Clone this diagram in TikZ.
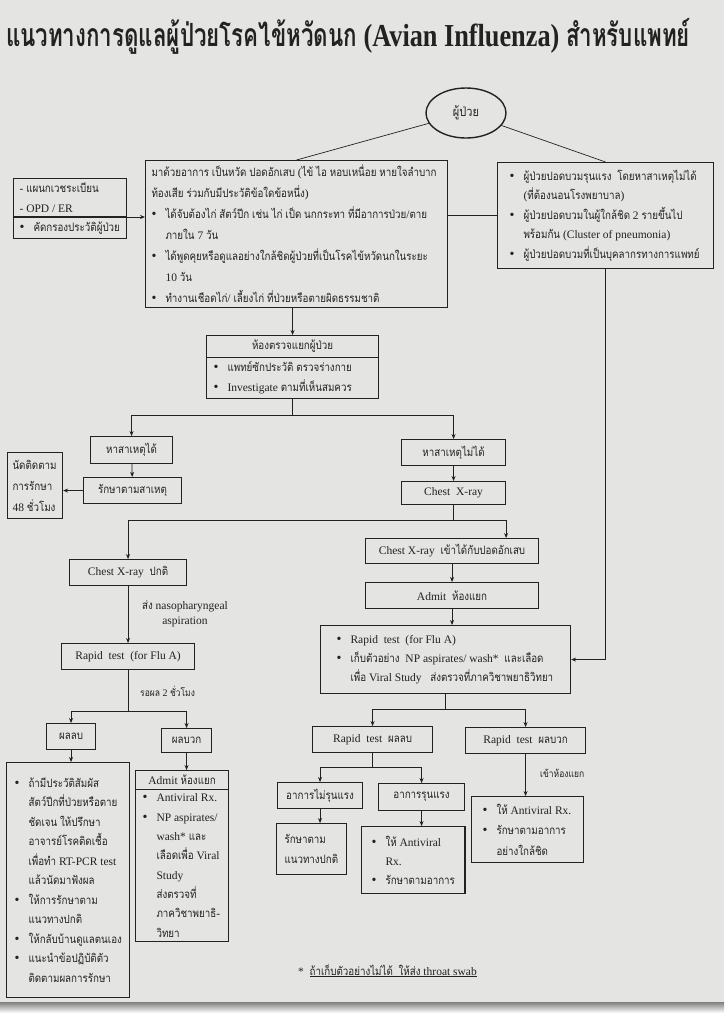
\documentclass[tikz,border=0pt]{standalone}
\usepackage{fontspec}
\usepackage{graphicx}
\usepackage{xcolor}
\setmainfont{Liberation Serif}
\newfontfamily\thaifont[Script=Thai,FakeStretch=0.85]{Loma}
\usetikzlibrary{calc, shapes.geometric, shapes.multipart, arrows.meta}

% Thai letters switch to the Thai font by themselves
\XeTeXinterchartokenstate=1
\newXeTeXintercharclass\thaiclass
\makeatletter
\count@="0E00
\loop
  \XeTeXcharclass\count@=\thaiclass
  \ifnum\count@<"0E7F
  \advance\count@\@ne
\repeat
\makeatother
\XeTeXinterchartoks 0 \thaiclass = {\thaifont}
\XeTeXinterchartoks 4095 \thaiclass = {\thaifont}
\XeTeXinterchartoks \thaiclass 0 = {\rmfamily}
\XeTeXinterchartoks \thaiclass 4095 = {\rmfamily}

\definecolor{ink}{RGB}{34,34,34}
\definecolor{paper}{RGB}{228,228,226}
\definecolor{shade}{RGB}{196,196,194}

\newcommand\bodyfont{\fontsize{11.5}{19.5}\selectfont}
\newcommand\bl{\makebox[14pt][l]{{\fontsize{14}{14}\selectfont\textbullet}}}
\newcommand\ib{\makebox[14pt]{}}
\newcommand\firstline[2]{\makebox[#1][l]{#2}}

\tikzset{
  box/.style={draw=ink, line width=1.1pt, text=ink, font=\bodyfont, inner ysep=3pt},
  cbox/.style={box, align=center, anchor=north west, inner xsep=2pt},
  lbox/.style={box, align=left, anchor=north west},
  sbox/.style={box, align=left, anchor=north west, rectangle split,
    rectangle split parts=2, inner ysep=4pt},
  lbl/.style={text=ink, font=\bodyfont, inner sep=0pt},
  link/.style={draw=ink, line width=0.8pt},
}

\begin{document}
\begin{tikzpicture}[x=1pt, y=-1pt, >={Stealth[length=5pt,width=4pt]}]

    % =================================================================
    % 1. NEN GIAY VA TIEU DE
    % =================================================================
    \useasboundingbox (0,0) rectangle (724,1013);
    \fill[paper] (0,0) rectangle (724,1013);
    \fill[shade] (0,1002) rectangle (724,1013);

    \node[anchor=base, inner sep=0pt, text=ink] (title) at (348,46)
        {\resizebox{684pt}{\height}{\fontsize{32}{36}\selectfont\bfseries แนวทางการดูแลผู้ป่วยโรคไข้หวัดนก (Avian Influenza) สำหรับแพทย์}};

    % =================================================================
    % 2. PHAN TREN: BENH NHAN VA TIEU CHI
    % =================================================================
    \node[draw=ink, ellipse, line width=1.4pt, minimum width=80pt, minimum height=50pt,
          text=ink, font=\fontsize{13}{15}\selectfont] (pat) at (466,113) {ผู้ป่วย};

    \node[sbox, rectangle split part align={left,left}, minimum width=113pt, inner xsep=6pt] (lb) at (13,178)
        {- แผนกเวชระเบียน\\- OPD / ER \nodepart{two}\bl คัดกรองประวัติผู้ป่วย};

    \node[lbox, minimum width=302pt, minimum height=147pt, inner xsep=6pt,
          font=\fontsize{11.5}{21}\selectfont] (cs) at (145,160)
        {\firstline{290pt}{มาด้วยอาการ เป็นหวัด ปอดอักเสบ (ไข้ ไอ หอบเหนื่อย หายใจลำบาก}\\
         ท้องเสีย ร่วมกับมีประวัติข้อใดข้อหนึ่ง)\\
         \bl ได้จับต้องไก่ สัตว์ปีก เช่น ไก่ เป็ด นกกระทา ที่มีอาการป่วย/ตาย\\
         \ib ภายใน 7 วัน\\
         \bl ได้พูดคุยหรือดูแลอย่างใกล้ชิดผู้ป่วยที่เป็นโรคไข้หวัดนกในระยะ\\
         \ib 10 วัน\\
         \bl ทำงานเชือดไก่/ เลี้ยงไก่ ที่ป่วยหรือตายผิดธรรมชาติ};

    \node[lbox, minimum width=216pt, minimum height=106pt, inner xsep=12pt] (rb) at (497,162)
        {\firstline{192pt}{\bl ผู้ป่วยปอดบวมรุนแรง\ \ โดยหาสาเหตุไม่ได้}\\
         \ib (ที่ต้องนอนโรงพยาบาล)\\
         \bl ผู้ป่วยปอดบวมในผู้ใกล้ชิด 2 รายขึ้นไป\\
         \ib พร้อมกัน (Cluster of pneumonia)\\
         \bl ผู้ป่วยปอดบวมที่เป็นบุคลากรทางการแพทย์};

    \node[sbox, rectangle split part align={center,left}, minimum width=172pt, inner xsep=7pt,
          font=\fontsize{11.5}{20}\selectfont] (ex) at (206,335)
        {ห้องตรวจแยกผู้ป่วย \nodepart{two}\bl แพทย์ซักประวัติ ตรวจร่างกาย\\\bl Investigate ตามที่เห็นสมควร};

    % =================================================================
    % 3. NHANH: TIM DUOC / KHONG TIM DUOC NGUYEN NHAN
    % =================================================================
    \node[cbox, minimum width=82pt, minimum height=27pt] (fd) at (90,436) {หาสาเหตุได้};
    \node[cbox, minimum width=98pt, minimum height=26pt] (tr) at (83,477) {รักษาตามสาเหตุ};
    \node[lbox, minimum width=55pt, minimum height=66pt, inner xsep=5pt,
          font=\fontsize{11.5}{21}\selectfont] (fu) at (7,452)
        {\firstline{45pt}{นัดติดตาม}\\การรักษา\\48 ชั่วโมง};
    \node[cbox, minimum width=104pt, minimum height=26pt] (nf) at (401,439) {หาสาเหตุไม่ได้};
    \node[cbox, minimum width=104pt, minimum height=23pt] (cx) at (401,481) {Chest\ \ X-ray};

    % =================================================================
    % 4. NHANH TRAI: X-QUANG BINH THUONG
    % =================================================================
    \node[cbox, minimum width=117pt, minimum height=26pt] (cn) at (69,559) {Chest\ X-ray\ \ ปกติ};
    \node[cbox, minimum width=133pt, minimum height=26pt] (rq) at (61,643) {Rapid\ \ test\ \ (for Flu A)};
    \node[cbox, minimum width=49pt, minimum height=26pt] (ng) at (46,723) {ผลลบ};
    \node[cbox, minimum width=50pt, minimum height=24pt] (ps) at (161,728) {ผลบวก};

    \node[lbox, minimum width=121pt, minimum height=235pt, inner xsep=8pt] (nb) at (6,762)
        {\firstline{105pt}{\bl ถ้ามีประวัติสัมผัส}\\
         \ib สัตว์ปีกที่ป่วยหรือตาย\\
         \ib ชัดเจน ให้ปรึกษา\\
         \ib อาจารย์โรคติดเชื้อ\\
         \ib เพื่อทำ RT-PCR test\\
         \ib แล้วนัดมาฟังผล\\
         \bl ให้การรักษาตาม\\
         \ib แนวทางปกติ\\
         \bl ให้กลับบ้านดูแลตนเอง\\
         \bl แนะนำข้อปฏิบัติตัว\\
         \ib ติดตามผลการรักษา};

    \node[sbox, rectangle split part align={center,left}, minimum width=93pt, inner xsep=7pt,
          font=\fontsize{11.5}{19.3}\selectfont] (am) at (135,770)
        {Admit\ ห้องแยก \nodepart{two}\bl Antiviral Rx.\\
         \bl NP aspirates/\\
         \ib wash* และ\\
         \ib เลือดเพื่อ Viral\\
         \ib Study\\
         \ib ส่งตรวจที่\\
         \ib ภาควิชาพยาธิ-\\
         \ib วิทยา};

    % =================================================================
    % 5. NHANH PHAI: X-QUANG NGHI VIEM PHOI
    % =================================================================
    \node[cbox, minimum width=173pt, minimum height=25pt] (cp) at (365,538) {Chest\ X-ray\ \ เข้าได้กับปอดอักเสบ};
    \node[cbox, minimum width=173pt, minimum height=26pt] (ad) at (365,582) {Admit\ \ ห้องแยก};
    \node[lbox, minimum width=250pt, minimum height=68pt, inner xsep=16pt,
          font=\fontsize{11.5}{19}\selectfont] (rp) at (320,625)
        {\firstline{218pt}{\bl Rapid\ \ test\ \ (for Flu A)}\\
         \bl เก็บตัวอย่าง\ \ NP aspirates/ wash*\ \ และเลือด\\
         \ib เพื่อ Viral Study\ \ \ ส่งตรวจที่ภาควิชาพยาธิวิทยา};

    \node[cbox, minimum width=120pt, minimum height=26pt] (rn) at (312,726) {Rapid\ \ test\ \ ผลลบ};
    \node[cbox, minimum width=120pt, minimum height=26pt] (rpp) at (465,727) {Rapid\ \ test\ \ ผลบวก};
    \node[cbox, minimum width=85pt, minimum height=26pt] (ms) at (277,782) {อาการไม่รุนแรง};
    \node[cbox, minimum width=86pt, minimum height=27pt] (sv) at (378,783) {อาการรุนแรง};
    \node[lbox, minimum width=68pt, minimum height=51pt, inner xsep=8pt] (mt) at (276,823)
        {\firstline{52pt}{รักษาตาม}\\แนวทางปกติ};
    \node[lbox, minimum width=101pt, minimum height=67pt, inner xsep=10pt,
          font=\fontsize{11.5}{19}\selectfont] (st) at (361,826)
        {\firstline{81pt}{\bl ให้ Antiviral}\\\ib Rx.\\\bl รักษาตามอาการ};
    \node[lbox, minimum width=112pt, minimum height=66pt, inner xsep=11pt,
          font=\fontsize{11.5}{20.5}\selectfont] (pq) at (471,796)
        {\firstline{90pt}{\bl ให้ Antiviral Rx.}\\\bl รักษาตามอาการ\\\ib อย่างใกล้ชิด};

    % =================================================================
    % 6. CAC DUONG NOI
    % =================================================================
    \draw[link, line width=0.7pt] (pat) -- (cs.north);
    \draw[link, line width=0.7pt] (pat) -- (rb.north);
    \draw[link, ->] (lb.text split east) -- (lb.text split east -| cs.west);
    \draw[link] (rb.west) -- (rb.west -| cs.east);
    \draw[link, ->] (rb.south) |- (rp.east);
    \draw[link, ->] (cs.south -| ex.north) -- (ex.north);

    \coordinate (exb) at ($(ex.south)+(0,16)$);
    \draw[link] (ex.south) -- (exb);
    \draw[link, ->] (exb) -| (fd.north);
    \draw[link, ->] (exb) -| (nf.north);
    \draw[link, ->] (fd) -- (tr);
    \draw[link, ->] (tr.west) -- (tr.west -| fu.east);
    \draw[link, ->] (nf) -- (cx);

    \coordinate (cxb) at ($(cx.south)+(0,15)$);
    \coordinate (cpin) at ($(cp.north east)+(-33,0)$);
    \draw[link] (cx.south) -- (cxb);
    \draw[link, ->] (cxb) -| (cn.north);
    \draw[link, ->] (cxb) -| (cpin);

    % nhanh trai
    \draw[link, ->] (cn) -- (rq);
    \coordinate (rqb) at ($(rq.south)+(0,41)$);
    \draw[link] (rq.south) -- (rqb);
    \draw[link, ->] (rqb) -| (ng.north);
    \draw[link, ->] (rqb) -| (ps.north);
    \draw[link, ->] (ng.south) -- (ng.south |- nb.north);
    \draw[link, ->] (ps.south) -- (ps.south |- am.north);

    % nhanh phai
    \draw[link, ->] (cp) -- (ad);
    \draw[link, ->] (ad.south) -- (ad.south |- rp.north);
    \coordinate (rpb) at ($(rp.south)+(0,15)$);
    \draw[link] (rp.south) -- (rpb);
    \draw[link, ->] (rpb) -| (rn.north);
    \draw[link, ->] (rpb) -| (rpp.north);
    \coordinate (rnb) at ($(rn.south)+(0,14)$);
    \draw[link] (rn.south) -- (rnb);
    \draw[link, ->] (rnb) -| (ms.north);
    \draw[link, ->] (rnb) -| (sv.north);
    \draw[link, ->] (ms.south) -- (ms.south |- mt.north);
    \draw[link, ->] (sv.south) -- (sv.south |- st.north);
    \draw[link, ->] (rpp.south) -- (rpp.south |- pq.north);

    % =================================================================
    % 7. NHAN TREN DUONG NOI VA GHI CHU
    % =================================================================
    \node[lbl, align=center, font=\fontsize{11.5}{15}\selectfont] (naso) at (185,614) {ส่ง nasopharyngeal\\aspiration};
    \node[lbl, anchor=west, font=\fontsize{10}{12}\selectfont] (wait) at (140,691) {รอผล 2 ชั่วโมง};
    \node[lbl, anchor=west, font=\fontsize{10}{12}\selectfont] (iso) at (540,773) {เข้าห้องแยก};
    \node[lbl, anchor=base west] (note) at (298,975)
        {*\ \ \underline{ถ้าเก็บตัวอย่างไม่ได้\ \ ให้ส่ง throat swab}};

\end{tikzpicture}
\end{document}
